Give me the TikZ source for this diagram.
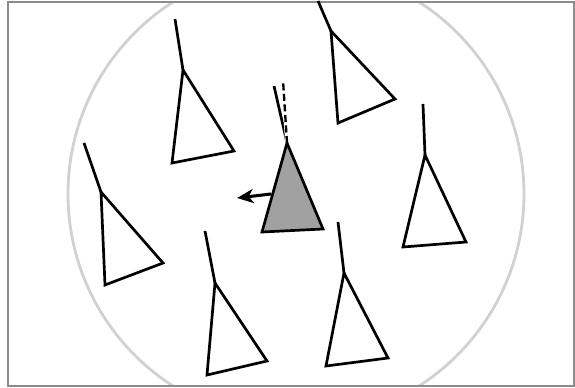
\documentclass[tikz,border=0pt]{standalone}
\usetikzlibrary{arrows.meta}

\begin{document}
\begin{tikzpicture}[x=0.03cm, y=-0.03cm, line join=miter,
	   cell/.style={draw, line width=2.3pt, fill=white},
	   stalk/.style={draw, line width=2.3pt}]
	  \useasboundingbox (0,0) rectangle (575,388);
	  % frame and neighbourhood circle
	  \begin{scope}
	    \clip (8,2) rectangle (574,386);
	    \draw[black!18, line width=2.4pt] (296,194) circle [radius=228];
	  \end{scope}
	  \draw[black!45, line width=1.6pt] (8,2) rectangle (574,386);
	  % neighbours
	  \draw[stalk] (175,19)--(183,70);  \draw[cell] (183,70)--(172,163)--(234,151)--cycle;
	  \draw[stalk] (318,1)--(331,31);   \draw[cell] (331,31)--(338,123)--(395,99)--cycle;
	  \draw[stalk] (84,143)--(101,192); \draw[cell] (101,192)--(105,285)--(163,263)--cycle;
	  \draw[stalk] (423,104)--(425,155); \draw[cell] (425,155)--(403,247)--(466,242)--cycle;
	  \draw[stalk] (205,231)--(215,283); \draw[cell] (215,283)--(207,375)--(267,361)--cycle;
	  \draw[stalk] (338,222)--(344,273); \draw[cell] (344,273)--(326,366)--(388,358)--cycle;
	  % focal cell
	  \coordinate (apex) at (287,143);
	  \coordinate (up) at (283,80);
	  \coordinate (side) at (271,194);
	  \coordinate (goal) at (237,198);
	  \draw[stalk] (274,86)--(apex);
	  \draw[white, line width=3.2pt] (apex)--(up);
	  \draw[black, line width=2pt, dash pattern=on 6pt off 3pt] (apex)--(up);
	  \draw[cell, fill=black!37] (apex)--(262,232)--(323,229)--cycle;
	  \draw[-{Stealth[length=14pt, width=12pt, inset=4pt]}, line width=2.6pt] (side)--(goal);
	\end{tikzpicture}
\end{document}
